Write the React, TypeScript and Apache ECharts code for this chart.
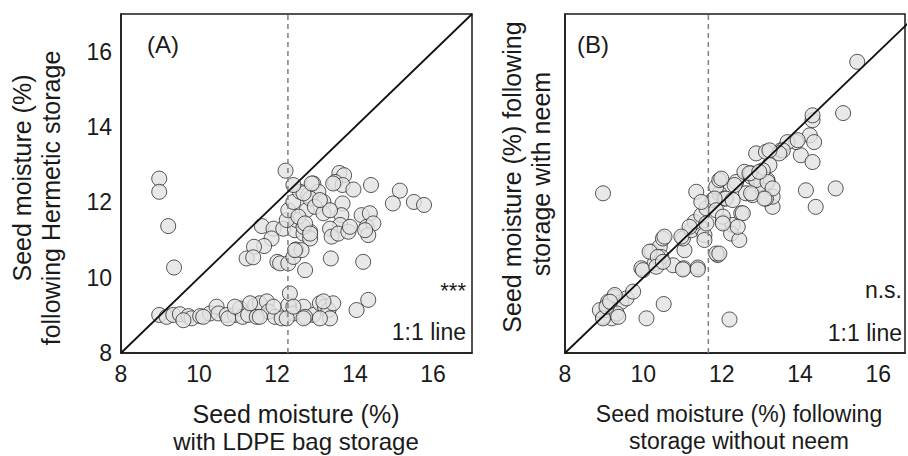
import React, { useEffect, useRef } from "react";
import * as echarts from "echarts";

// Panel A: x = seed moisture with LDPE bag storage, y = following hermetic storage
const ldpeVsHermetic: [number, number][] = [
  [8.98, 12.63], [8.98, 12.28], [9.21, 11.37], [9.36, 10.27], [12.22, 12.84],
  [11.61, 11.37], [11.91, 11.3], [11.86, 11.04], [11.67, 10.84], [11.41, 10.82], [11.22, 10.51], [11.39, 10.54],
  [12.01, 10.42], [12.08, 10.38], [12.29, 10.38], [12.42, 10.55], [12.49, 10.75], [12.16, 11.3], [12.46, 11.26],
  [12.5, 11.53], [12.25, 11.53], [12.29, 11.79], [12.42, 12.01], [12.59, 12.28], [12.8, 12.19], [12.76, 11.79],
  [12.72, 10.2], [12.68, 11.17], [13.6, 12.78], [13.72, 12.72], [13.49, 12.54], [13.68, 12.46], [13.96, 12.34],
  [14.41, 12.46], [12.93, 12.5], [13.06, 12.28], [12.85, 12.1], [12.68, 12.24], [13.19, 12.01], [12.97, 11.88],
  [13.19, 11.71], [13.68, 11.97], [13.65, 11.66], [13.62, 11.4], [13.36, 11.3], [13.4, 11.09], [13.57, 11.17],
  [13.83, 11.22], [13.87, 11.35], [12.85, 11.22], [12.85, 11.04], [12.68, 11.35], [12.63, 10.73], [14.17, 11.66],
  [14.38, 11.71], [14.3, 11.35], [14.47, 11.44], [14.34, 11.13], [14.26, 11.26], [15.15, 12.31], [14.97, 11.97],
  [15.51, 12.01], [15.77, 11.93], [13.38, 10.51], [14.21, 10.42], [12.89, 12.5], [13.44, 12.5], [12.42, 12.46],
  [12.55, 11.62], [12.72, 11.44], [12.85, 11.17], [12.46, 10.73], [13.36, 11.79], [13.1, 12.06],
  [8.98, 9.01], [9.17, 8.96], [9.34, 9.01], [9.51, 9.03], [9.73, 8.98], [9.81, 8.92], [10.03, 8.98], [10.28, 9.05],
  [10.45, 9.23], [10.5, 9.05], [10.71, 9.01], [10.92, 9.01], [11.05, 9.18], [11.12, 8.96], [11.26, 9.01],
  [11.44, 9.27], [11.56, 9.32], [11.74, 9.37], [11.78, 9.1], [11.95, 8.96], [12.12, 8.92], [12.29, 9.27],
  [12.33, 9.58], [12.42, 9.05], [11.48, 8.96], [11.31, 9.32], [12.68, 9.23], [12.93, 9.01], [13.1, 9.32],
  [13.23, 9.23], [13.32, 9.14], [13.44, 9.32], [13.36, 8.92], [12.72, 8.96], [14.04, 9.14], [14.34, 9.41],
  [13.19, 9.37], [12.68, 8.92], [10.75, 8.92], [10.11, 8.96], [9.6, 8.87], [10.92, 9.23], [11.56, 8.96],
  [11.91, 9.23], [12.25, 8.92], [12.42, 9.23], [13.1, 8.92],
];

// Panel B: x = without neem, y = with neem
const withoutVsWithNeem: [number, number][] = [
  [8.97, 12.24], [9.19, 8.92], [8.97, 8.96], [9.06, 9.14], [9.1, 9.36], [9.27, 9.49], [9.44, 9.36], [9.57, 9.45],
  [9.74, 9.63], [9.32, 9.05], [8.89, 9.14], [10.08, 8.92], [10.52, 9.3], [12.2, 8.89],
  [9.95, 10.25], [10.21, 10.69], [10.42, 10.82], [10.5, 11.04], [10.46, 10.55], [10.29, 10.38], [10.76, 10.33],
  [11.03, 10.25], [11.39, 10.27], [11.05, 10.73], [11.01, 11.04], [11.22, 11.26], [11.44, 11.35], [11.56, 11.13],
  [11.31, 11.48], [11.48, 11.66], [11.61, 11.84], [11.77, 12.06], [11.94, 12.24], [11.86, 12.41], [11.35, 12.28],
  [12.07, 12.1], [12.03, 11.48], [12.28, 11.4], [12.24, 11.17], [12.45, 11.0], [12.5, 11.71], [11.9, 10.6],
  [12.37, 12.54], [12.58, 12.81], [12.75, 12.68], [12.62, 12.24], [12.79, 12.19], [13.01, 12.5], [13.17, 12.59],
  [13.05, 12.32], [13.3, 11.88], [13.3, 12.15], [13.13, 12.1], [12.88, 13.3], [13.13, 13.34], [13.51, 13.38],
  [14.15, 12.32], [14.91, 12.37], [14.4, 11.88], [14.02, 13.25], [14.32, 13.07],
  [14.32, 14.18], [14.25, 13.78], [14.36, 13.6], [13.9, 13.6], [13.68, 13.6], [13.56, 13.38], [13.47, 13.3],
  [13.22, 13.38], [13.22, 12.99], [13.05, 12.85], [12.75, 12.77], [12.88, 12.59], [13.17, 12.54], [13.3, 12.37],
  [13.09, 12.1], [12.75, 12.24], [12.33, 12.46], [11.94, 12.59], [12.11, 12.1], [12.28, 12.06], [11.82, 12.1],
  [11.48, 12.01], [11.86, 11.79], [12.03, 11.62], [12.54, 11.71], [12.41, 11.35], [12.03, 11.44],
  [11.18, 11.35], [10.97, 11.09], [11.86, 10.64],
  [15.46, 15.73], [15.1, 14.37], [14.32, 14.31], [13.94, 13.65], [12.71, 12.77], [12.96, 12.81], [11.99, 12.63],
  [8.97, 8.92], [9.06, 9.23], [9.27, 9.54], [9.15, 9.36], [9.36, 8.96], [9.99, 10.2], [10.16, 10.69],
  [10.54, 11.09], [10.37, 10.55], [10.33, 10.29], [10.5, 10.42], [11.01, 10.22], [11.39, 10.22], [11.61, 11.44],
  [11.56, 11.0], [11.94, 10.64],
];

const axisMin = 8;
const axisMaxA = 17;
const axisMaxBx = 16.68;
const axisMaxY = 17;
const tickStep = 2;
const meanLineA = 12.28;
const meanLineB = 11.66;

const FONT = '"Liberation Sans", Arial, Helvetica, sans-serif';
const INK = "#1a1a1a";

export default function App() {
  const ref = useRef<HTMLDivElement>(null);
  useEffect(() => {
    if (!ref.current) return;
    const chart = echarts.init(ref.current, undefined, { renderer: "svg" });
    const fmt = (v: number) => (Number.isInteger(v) && v % 2 === 0 ? String(v) : "");
    const axisBase = (gridIndex: number, max: number, showLabel: boolean) => ({
      gridIndex,
      type: "value",
      min: axisMin,
      max,
      interval: tickStep,
      axisLine: { show: true, onZero: false, lineStyle: { color: INK, width: 1.5 } },
      axisTick: { show: false },
      splitLine: { show: false },
      axisLabel: { show: showLabel, fontSize: 23, margin: 9, color: INK, fontFamily: FONT, formatter: fmt },
    });
    const dotStyle = { color: "#e2e2e2", borderColor: "#2a2a2a", borderWidth: 1 };
    const txt = (x: number, y: number, text: string, size: number, align: string, rot = 0) => ({
      type: "text",
      x,
      y,
      rotation: rot,
      z: 100,
      style: { text, fontSize: size, fontFamily: FONT, fill: INK, align, verticalAlign: "middle" },
    });
    chart.setOption({
      animation: false,
      textStyle: { fontFamily: FONT, color: INK },
      grid: [
        { left: 121, top: 14, width: 351, height: 339, show: true, borderColor: INK, borderWidth: 1.5, backgroundColor: "transparent" },
        { left: 565, top: 14, width: 341, height: 339, show: true, borderColor: INK, borderWidth: 1.5, backgroundColor: "transparent" },
      ],
      xAxis: [axisBase(0, axisMaxA, true), axisBase(1, axisMaxBx, true)],
      yAxis: [axisBase(0, axisMaxY, true), axisBase(1, axisMaxY, false)],
      series: [
        { type: "scatter", xAxisIndex: 0, yAxisIndex: 0, data: ldpeVsHermetic, symbol: "circle", symbolSize: 15, itemStyle: dotStyle, z: 2 },
        { type: "scatter", xAxisIndex: 1, yAxisIndex: 1, data: withoutVsWithNeem, symbol: "circle", symbolSize: 15, itemStyle: dotStyle, z: 2 },
        { type: "line", xAxisIndex: 0, yAxisIndex: 0, data: [[axisMin, axisMin], [axisMaxA, axisMaxA]], symbol: "none", lineStyle: { color: "#111", width: 1.8 }, z: 5, clip: true },
        { type: "line", xAxisIndex: 1, yAxisIndex: 1, data: [[axisMin, axisMin], [axisMaxY, axisMaxY]], symbol: "none", lineStyle: { color: "#111", width: 1.8 }, z: 5, clip: true },
        { type: "line", xAxisIndex: 0, yAxisIndex: 0, data: [[meanLineA, axisMin], [meanLineA, axisMaxY]], symbol: "none", lineStyle: { color: "#808080", width: 1.5, type: [5, 4] }, z: 4 },
        { type: "line", xAxisIndex: 1, yAxisIndex: 1, data: [[meanLineB, axisMin], [meanLineB, axisMaxY]], symbol: "none", lineStyle: { color: "#808080", width: 1.5, type: [5, 4] }, z: 4 },
      ],
      graphic: [
        txt(147, 44, "(A)", 24, "left"),
        txt(577, 44, "(B)", 24, "left"),
        txt(466, 290, "***", 22, "right"),
        txt(466, 332, "1:1 line", 23, "right"),
        txt(902, 290, "n.s.", 23, "right"),
        txt(902, 333, "1:1 line", 23, "right"),
        txt(296, 414, "Seed moisture (%)", 25, "center"),
        txt(296, 441, "with LDPE bag storage", 24, "center"),
        txt(739, 414, "Seed moisture (%) following", 23, "center"),
        txt(739, 441, "storage without neem", 23, "center"),
        txt(22, 178, "Seed moisture (%)", 25, "center", Math.PI / 2),
        txt(51, 198, "following Hermetic storage", 25, "center", Math.PI / 2),
        txt(512, 177, "Seed moisture (%) following", 25, "center", Math.PI / 2),
        txt(541, 174, "storage with neem", 25, "center", Math.PI / 2),
      ],
    });
    return () => chart.dispose();
  }, []);
  return (
    <div
      ref={ref}
      style={{ position: "fixed", left: 0, top: 0, width: 908, height: 456, background: "#fff" }}
    />
  );
}
